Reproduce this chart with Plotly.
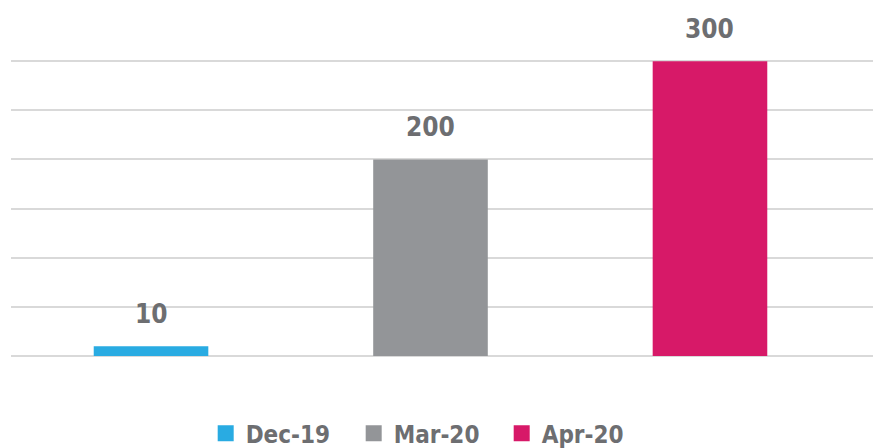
import plotly.graph_objects as go

series = ["Dec-19", "Mar-20", "Apr-20"]
values = [10, 200, 300]
colors = ["#29ABE2", "#939598", "#D71968"]

FONT = "Liberation Sans Narrow, DejaVu Sans Condensed, sans-serif"

fig = go.Figure()
for i, (name, v, c) in enumerate(zip(series, values, colors)):
    fig.add_trace(go.Bar(
        x=[i], y=[v], name=name, marker=dict(color=c, line=dict(width=0)),
        width=0.41, hoverinfo="skip", showlegend=False,
    ))
    fig.add_trace(go.Scatter(
        x=[None], y=[None], mode="markers", name=name,
        marker=dict(symbol="square", size=18, color=c), showlegend=True,
    ))
    fig.add_annotation(
        x=i, y=v, text=str(v), showarrow=False, yanchor="bottom", yshift=15,
        font=dict(family=FONT, size=26, color="#6D6E71", weight="bold"),
    )

fig.update_layout(
    width=881, height=448,
    margin=dict(l=3, r=1, t=4, b=100, autoexpand=False),
    paper_bgcolor="white", plot_bgcolor="white",
    barmode="overlay",
    showlegend=True,
    legend=dict(
        orientation="h", x=0.222, xanchor="left", y=-0.226, yanchor="middle",
        font=dict(family=FONT, size=24, color="#6D6E71", weight="bold"),
        itemwidth=30, itemsizing="trace", traceorder="normal",
        entrywidth=103, entrywidthmode="pixels",
    ),
    xaxis=dict(range=[-0.501, 2.637], showticklabels=False, showgrid=False,
               zeroline=False, showline=False, ticks=""),
    yaxis=dict(range=[0, 350], dtick=50, showticklabels=False,
               gridcolor="#D9D9D9", gridwidth=2, zeroline=True,
               zerolinecolor="#D9D9D9", zerolinewidth=2, showline=False,
               ticks=""),
)

fig.write_html("out.html")
